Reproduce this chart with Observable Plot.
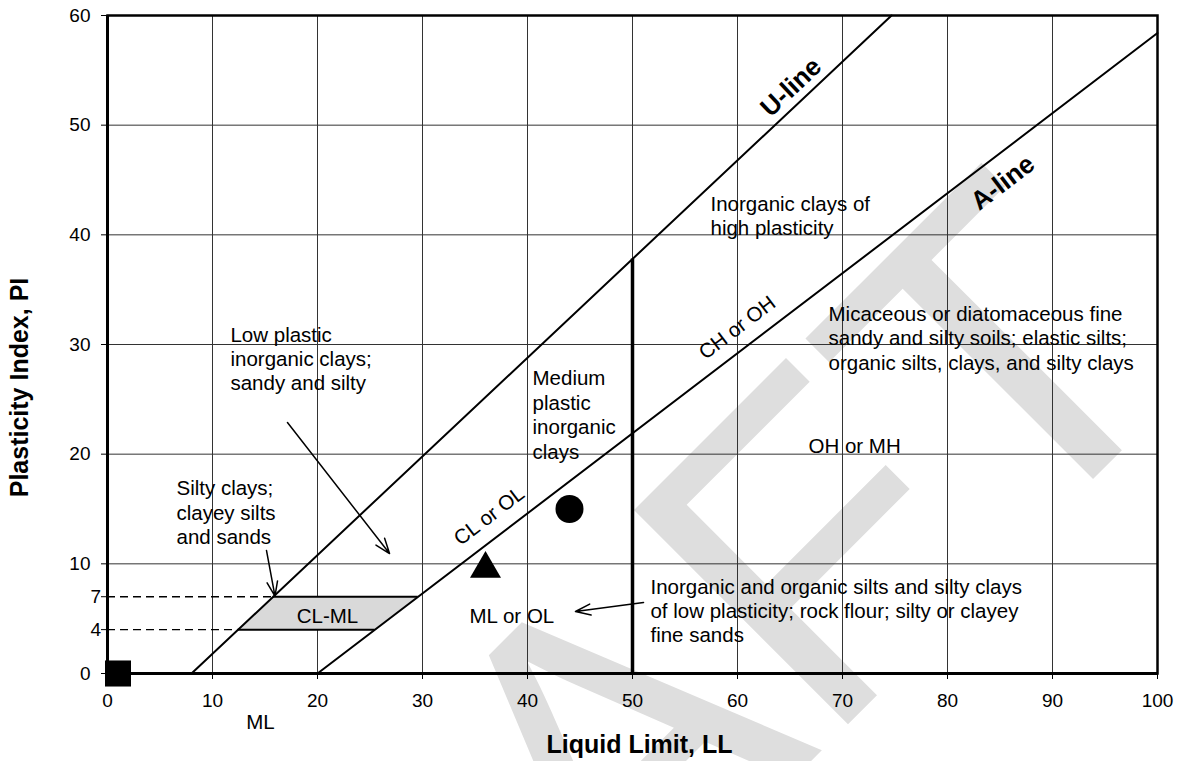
<!DOCTYPE html>
<html><head><meta charset="utf-8">
<script src="https://cdn.jsdelivr.net/npm/d3@7"></script>
<script src="https://cdn.jsdelivr.net/npm/@observablehq/plot@0.6"></script>
<style>html,body{margin:0;padding:0;background:#fff;overflow:hidden}</style>
</head><body><div id="chart"></div>
<script>
// ---- data ----
const xTicks = [0, 10, 20, 30, 40, 50, 60, 70, 80, 90, 100];
const yTicks = [0, 10, 20, 30, 40, 50, 60];
const yTicksExtra = [4, 7];
const uLine = [{ll: 8, pi: 0}, {ll: 74.67, pi: 60}];
const aLine = [{ll: 20, pi: 0}, {ll: 100, pi: 58.4}];
const llDivide = [{ll: 50, pi0: 0, pi1: 37.8}];
const clmlZone = [{pi: 4, lo: 12.44, hi: 25.48}, {pi: 7, lo: 15.78, hi: 29.59}];
const squarePts = [{ll: 1, pi: 0}];
const trianglePts = [{ll: 36, pi: 10}];
const circlePts = [{ll: 44, pi: 15}];
const regionLabels = [
  {ll: 11.71, pi: 31.86, label: "Low plastic\ninorganic clays;\nsandy and silty"},
  {ll: 6.57, pi: 17.82, label: "Silty clays;\nclayey silts\nand sands"},
  {ll: 40.48, pi: 27.85, label: "Medium\nplastic\ninorganic\nclays"},
  {ll: 57.43, pi: 43.80, label: "Inorganic clays of\nhigh plasticity"},
  {ll: 68.67, pi: 33.77, label: "Micaceous or diatomaceous fine\nsandy and silty soils; elastic silts;\norganic silts, clays, and silty clays"},
  {ll: 66.76, pi: 21.65, label: "OH or MH"},
  {ll: 51.71, pi: 8.88, label: "Inorganic and organic silts and silty clays\nof low plasticity; rock flour; silty or clayey\nfine sands"},
  {ll: 34.48, pi: 6.15, label: "ML or OL"}
];
const centeredLabels = [
  {ll: 20.95, pi: 6.15, label: "CL-ML"},
  {ll: 14.57, pi: -3.43, label: "ML"}
];
const uLineLabel = [{ll: 65.1, pi: 53.45, label: "U-line"}];
const aLineLabel = [{ll: 85.27, pi: 44.75, label: "A-line"}];
const aZoneLabels = [
  {ll: 59.97, pi: 31.52, label: "CH or OH"},
  {ll: 36.35, pi: 14.36, label: "CL or OL"}
];
const arrows = [
  {x1: 17.14, y1: 22.89, x2: 26.86, y2: 10.94},
  {x1: 15.14, y1: 11.22, x2: 15.95, y2: 7.05},
  {x1: 51.05, y1: 6.47, x2: 44.57, y2: 5.65}
];

const font = "'Liberation Sans', Arial, Helvetica, sans-serif";
const annSize = 20.5;

const chart = Plot.plot({
  width: 1179, height: 761,
  marginLeft: 107, marginRight: 22, marginTop: 15, marginBottom: 88,
  x: {domain: [0, 100]},
  y: {domain: [0, 60]},
  style: {fontFamily: font, fontSize: "19px", background: "#fff", color: "#000"},
  marks: [
    // watermark
    Plot.text(["DRAFT"], {frameAnchor: "top-left", dx: 477, dy: 773, rotate: -45, fontSize: 440, fill: "#dedede", textAnchor: "middle", lineAnchor: "middle"}),
    // grid
    Plot.ruleX(xTicks.filter(d => d > 0 && d < 100), {stroke: "#333", strokeWidth: 1}),
    Plot.ruleY(yTicks.filter(d => d > 0 && d < 60), {stroke: "#333", strokeWidth: 1}),
    // CL-ML zone
    Plot.areaX(clmlZone, {y: "pi", x1: "lo", x2: "hi", fill: "#d9d9d9"}),
    Plot.ruleY(clmlZone, {y: "pi", x1: "lo", x2: "hi", stroke: "#000", strokeWidth: 2}),
    Plot.ruleY(clmlZone, {y: "pi", x1: () => 0, x2: "lo", stroke: "#000", strokeWidth: 1.3, strokeDasharray: "8,5"}),
    // lines
    Plot.line(uLine, {x: "ll", y: "pi", stroke: "#000", strokeWidth: 2}),
    Plot.line(aLine, {x: "ll", y: "pi", stroke: "#000", strokeWidth: 2}),
    Plot.ruleX(llDivide, {x: "ll", y1: "pi0", y2: "pi1", stroke: "#000", strokeWidth: 3.5}),
    // frame & axes
    Plot.frame({stroke: "#000", strokeWidth: 2.5}),
    Plot.ruleY([0], {stroke: "#000", strokeWidth: 3}),
    Plot.ruleX([0], {stroke: "#000", strokeWidth: 3}),
    Plot.axisX({ticks: xTicks, tickSize: 6, tickPadding: 14, fontSize: 19, label: null}),
    Plot.axisY({ticks: yTicks, tickSize: 6, tickPadding: 11, fontSize: 19, label: null}),
    Plot.axisY({ticks: yTicksExtra, tickSize: 6, tickPadding: 0.5, fontSize: 19, label: null}),
    Plot.text(["Liquid Limit, LL"], {frameAnchor: "bottom", dx: 7, dy: 71, fontSize: 25, fontWeight: "bold", textAnchor: "middle", lineAnchor: "middle"}),
    Plot.text(["Plasticity Index, PI"], {frameAnchor: "left", dx: -88, dy: 43, rotate: -90, fontSize: 25, fontWeight: "bold", textAnchor: "middle", lineAnchor: "middle"}),
    // annotations
    Plot.text(regionLabels, {x: "ll", y: "pi", text: "label", textAnchor: "start", lineAnchor: "top", fontSize: annSize, lineHeight: 1.195, fill: "#000"}),
    Plot.text(centeredLabels, {x: "ll", y: "pi", text: "label", textAnchor: "middle", lineAnchor: "top", fontSize: annSize, lineHeight: 1.195, fill: "#000"}),
    Plot.text(uLineLabel, {x: "ll", y: "pi", text: "label", rotate: -43.2, fontSize: 26, fontWeight: "bold", lineAnchor: "middle", fill: "#000"}),
    Plot.text(aLineLabel, {x: "ll", y: "pi", text: "label", rotate: -37.3, fontSize: 26, fontWeight: "bold", lineAnchor: "middle", fill: "#000"}),
    Plot.text(aZoneLabels, {x: "ll", y: "pi", text: "label", rotate: -37.3, fontSize: annSize, lineAnchor: "middle", fill: "#000"}),
    Plot.arrow(arrows, {x1: "x1", y1: "y1", x2: "x2", y2: "y2", stroke: "#000", strokeWidth: 1.5, headLength: 16, headAngle: 40}),
    // samples
    Plot.dot(squarePts, {x: "ll", y: "pi", symbol: "square", r: 14.7, fill: "#000"}),
    Plot.dot(trianglePts, {x: "ll", y: "pi", symbol: "triangle", r: 11.5, fill: "#000", dy: 5}),
    Plot.dot(circlePts, {x: "ll", y: "pi", symbol: "circle", r: 14, fill: "#000"})
  ]
});
document.getElementById("chart").appendChild(chart);
</script>
</body></html>
